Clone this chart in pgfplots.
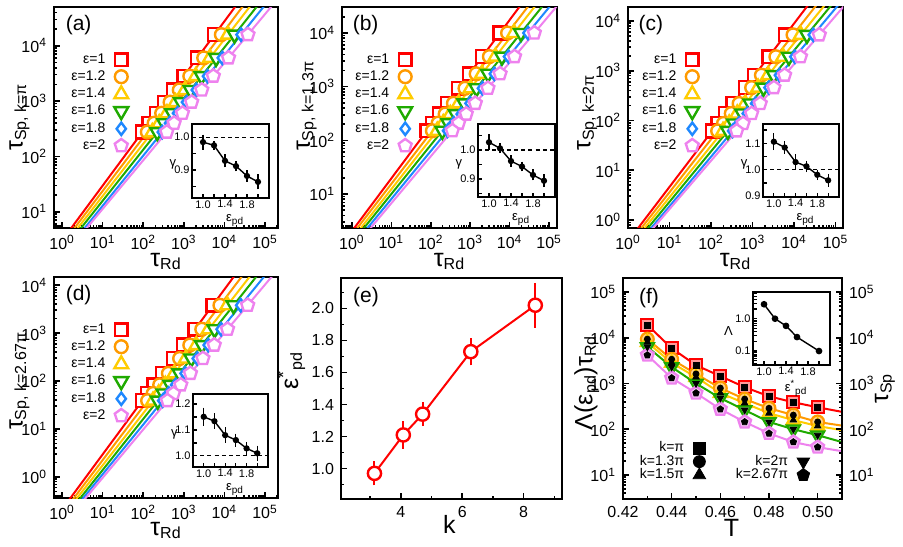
\documentclass[border=0pt]{standalone}
\usepackage{fontspec}
\setmainfont{Liberation Sans}
\usepackage{pgfplots}
\usepackage{pgfplotstable}
\pgfplotsset{compat=1.18}
\usetikzlibrary{plotmarks}

\definecolor{cR}{HTML}{FF0000}
\definecolor{cO}{HTML}{FF9A00}
\definecolor{cY}{HTML}{FFCC00}
\definecolor{cG}{HTML}{1FAA00}
\definecolor{cB}{HTML}{1E88FF}
\definecolor{cV}{HTML}{EE82EE}

\newcommand\tsz{\fontsize{8}{9}\selectfont}
\newcommand\lsz{\fontsize{12.5}{14}\selectfont}
\newcommand\gsz{\fontsize{7}{8}\selectfont}
\newcommand\psz{\fontsize{10.5}{12}\selectfont}
\newcommand\isz{\fontsize{5.5}{6}\selectfont}
\newcommand\ilsz{\fontsize{6.5}{7}\selectfont}
\newcommand\sub[1]{\textsubscript{\fontsize{8}{9}\selectfont #1}}
\newcommand\isub[1]{\textsubscript{\fontsize{5}{5}\selectfont #1}}
\newcommand\dec[1]{10\textsuperscript{#1}}

\pgfplotsset{
  panel/.style={
    /pgfplots/scale only axis, /pgfplots/anchor=south west,
    /pgfplots/axis line style={line width=1pt},
    /pgfplots/tick align=inside, /pgfplots/tick pos=left,
    /pgfplots/major tick length=3pt, /pgfplots/minor tick length=1.6pt,
    /pgfplots/every tick/.style={black, line width=0.8pt},
    /pgfplots/tick label style={font=\tsz},
    /pgfplots/label style={font=\lsz},
    /pgf/number format/assume math mode=true,
    /pgfplots/legend plot pos=right, /pgfplots/legend cell align=right,
    /pgfplots/legend style={draw=none, fill=none, inner sep=0pt, font=\gsz,
      anchor=north east, row sep=1.1pt, column sep=4pt,
      nodes={inner sep=0.5pt}},
  },
  xdecades/.style={
    /pgfplots/xtick={1,10,100,1000,10000,100000},
    /pgfplots/xticklabels={\dec0,\dec1,\dec2,\dec3,\dec4,\dec5},
    /pgfplots/minor xtick={0.6,0.7,0.8,0.9,2,3,4,5,6,7,8,9,20,30,40,50,60,70,80,90,
      200,300,400,500,600,700,800,900,2000,3000,4000,5000,6000,7000,8000,9000,
      20000,30000,40000,50000,60000,70000,80000,90000,200000}},
  ydecminor/.style={/pgfplots/minor ytick={0.2,0.3,0.4,0.5,0.6,0.7,0.8,0.9,2,3,4,5,6,7,8,9,
      20,30,40,50,60,70,80,90,200,300,400,500,600,700,800,900,
      2000,3000,4000,5000,6000,7000,8000,9000,
      20000,30000,40000,50000,60000,70000,80000,90000,200000}},
  ln/.style={#1, line width=1pt, forget plot},
  inset/.style={
    /pgfplots/scale only axis, /pgfplots/anchor=south west,
    /pgfplots/axis background/.style={fill=white},
    /pgfplots/axis line style={line width=0.6pt},
    /pgfplots/tick align=inside, /pgfplots/tick pos=left,
    /pgfplots/major tick length=1.8pt, /pgfplots/minor tick length=1.8pt,
    /pgfplots/every tick/.style={black, line width=0.6pt},
    /pgfplots/tick label style={font=\isz, inner sep=1pt},
    /pgf/number format/assume math mode=true,
    /pgfplots/xmin=0.8, /pgfplots/xmax=2.2,
    /pgfplots/xtick={1.0,1.4,1.8}, /pgfplots/minor xtick={1.2,1.6,2.0},
    /pgfplots/xticklabel style={/pgf/number format/.cd, fixed, fixed zerofill, precision=1},
    /pgfplots/yticklabel style={/pgf/number format/.cd, fixed, fixed zerofill, precision=1},
    /pgfplots/xlabel style={font=\ilsz, at={(axis description cs:0.56,-0.32)}, anchor=base},
    /pgfplots/ylabel style={font=\ilsz, rotate=-90, at={(axis description cs:-0.25,0.45)}, anchor=center},
    /pgfplots/xlabel={ε\isub{pd}}, /pgfplots/ylabel={γ},
  },
}

% tau_Sp (first column) against tau_Rd for eps = 1, 1.2, 1.4, 1.6, 1.8, 2
\pgfplotstableread{
y      R     O     Y     G     B     V
15850  5690  8400  12250 17750 25700 37930
6026   2143  3084  4400  6225  8854  12620
2818   995   1403  1968  2735  3829  5322
1585   556   773   1069  1466  2028  2767
955    333   458   625   847   1161  1557
603    209   284   384   515   698   923
398    138   185   247   329   443   575
275    95.1  126   167   221   294   379
}\Amk
\pgfplotstableread{
y      R      O      Y      G       B       V
2.512  0.826  0.977  1.156  1.368   1.660   1.820
100000 36650  56490  86300  130300  195900  307600
}\Alin
\pgfplotstableread{
y      R     O      Y     G     B     V
10000  5663  8854   12860 19320 29040 42280
3631   2023  3063   4355  6369  9357  13270
1738   957   1416   1986  2839  4094  5715
933    508   738    1021  1439  2042  2813
490    264   375    513   710   991   1346
309    166   232    313   429   592   794
209    111   153.5  207   279   382   508
151    80.2  110    146   196   266   352
}\Bmk
\pgfplotstableread{
y      R       O      Y       G       B       V
1      0.4875  0.568  0.6855  0.8027  0.964   1.132
100000 58740   99080  150700  240400  382800  587500
}\Blin
\pgfplotstableread{
y      R     O      Y     G     B     V
5248   6196  9486   14520 20470 29040 40560
1905   2455  3657   5433  7535  10470 14290
813    1125  1637   2383  3244  4447  5931
457    665   953    1361  1841  2495  3274
219    339   476    667   890   1189  1532
138    223   308    428   564   748   953
87.1   146   200    274   358   470   593
61.7   107   144.5  195   255   332   415
}\Cmk
\pgfplotstableread{
y      R      O      Y      G       B       V
0.3162 0.859  1.007  1.180  1.396   1.652   1.811
31620  31990  51400  82600  120500  177000  258200
}\Clin
\pgfplotstableread{
y      R     O     Y     G     B     V
3802   5142  7762  11800 16800 25180 37340
1202   1884  2767  4094  5702  8281  11910
562    971   1403  2033  2793  3972  5599
295    553   787   1122  1525  2134  2951
144.5  297   416   582   780   1072  1452
83.2   184   254   350   465   628   840
55.0   128   175   239   315   422   556
38.9   94.6  128   174   228   302   394
}\Dmk
\pgfplotstableread{
y      R      O      Y      G       B       V
0.1585 0.78   0.931  1.094  1.297   1.489   1.671
31620  32590  51760  83180  122700  194500  306200
}\Dlin
% exponent gamma against eps_pd
\pgfplotstableread{
e    g      err
1.0  0.985  0.015
1.2  0.975  0.006
1.4  0.928  0.012
1.6  0.912  0.008
1.8  0.882  0.010
2.0  0.864  0.015
}\Agam
\pgfplotstableread{
e    g      err
1.0  1.027  0.018
1.2  1.006  0.008
1.4  0.962  0.012
1.6  0.943  0.008
1.8  0.914  0.010
2.0  0.894  0.013
}\Bgam
\pgfplotstableread{
e    g      err
1.0  1.106  0.022
1.2  1.084  0.015
1.4  1.029  0.020
1.6  1.013  0.012
1.8  0.981  0.010
2.0  0.960  0.015
}\Cgam
\pgfplotstableread{
e    g      err
1.0  1.151  0.025
1.2  1.134  0.020
1.4  1.080  0.020
1.6  1.061  0.015
1.8  1.029  0.015
2.0  1.010  0.020
}\Dgam
% eps*_pd against k
\pgfplotstableread{
k     e     err
3.14  0.97  0.05
4.08  1.21  0.06
4.71  1.34  0.05
6.28  1.73  0.06
8.38  2.02  0.115
}\Etab
% Lambda(eps_pd) tau_Rd against T, one column per k
\pgfplotstableread{
T      R      O      Y      G      V
0.43   19050  9333   7943   6310   4169
0.44   5888   3388   2818   2291   1318
0.45   2512   1622   1380   1000   617
0.46   1445   794    617    479    275
0.47   832    457    372    263    144.5
0.48   525    288    224    144.5  81.3
0.49   389    204    158.5  100    52.5
0.50   302    144.5  117.5  74.1   40.7
0.51   240    120    95.5   52.5   33.1
}\Ftab
\pgfplotstableread{
e    L
1.0  2.8
1.2  1.0
1.4  0.6
1.6  0.27
2.0  0.1
}\Flam

% six fitted lines, then the six marker series with their legend
\newcommand\epsplots[2]{%
  \addplot[ln=cR] table[x=R,y=y]{#2};
  \addplot[ln=cO] table[x=O,y=y]{#2};
  \addplot[ln=cY] table[x=Y,y=y]{#2};
  \addplot[ln=cG] table[x=G,y=y]{#2};
  \addplot[ln=cB] table[x=B,y=y]{#2};
  \addplot[ln=cV] table[x=V,y=y]{#2};
  \addplot[only marks, line width=1.2pt, cR, mark=square*, mark size=3.2pt,
    mark options={solid, fill=white}] table[x=R,y=y]{#1}; \addlegendentry{ε=1}
  \addplot[only marks, line width=1.2pt, cO, mark=*, mark size=3.2pt,
    mark options={solid, fill=white}] table[x=O,y=y]{#1}; \addlegendentry{ε=1.2}
  \addplot[only marks, line width=1.2pt, cY, mark=triangle*, mark size=4pt,
    mark options={solid, fill=white}] table[x=Y,y=y]{#1}; \addlegendentry{ε=1.4}
  \addplot[only marks, line width=1.2pt, cG, mark=triangle*, mark size=4pt,
    mark options={solid, fill=white, rotate=180}] table[x=G,y=y]{#1}; \addlegendentry{ε=1.6}
  \addplot[only marks, line width=1.2pt, cB, mark=diamond*, mark size=3.1pt,
    mark options={solid, fill=white}] table[x=B,y=y]{#1}; \addlegendentry{ε=1.8}
  \addplot[only marks, line width=1.2pt, cV, mark=pentagon*, mark size=3.4pt,
    mark options={solid, fill=white}] table[x=V,y=y]{#1}; \addlegendentry{ε=2}
}

\begin{document}
\begin{tikzpicture}
\useasboundingbox (0,0) rectangle (451.5pt,273pt);

% ---------------- (a)
\begin{axis}[panel, xmode=log, xdecades, ydecminor, at={(27pt,159pt)}, width=112pt, height=110.5pt,
  xmin=0.631, xmax=208900, ymode=log, ymin=5.08, ymax=50100,
  ytick={10,100,1000,10000}, yticklabels={\dec1,\dec2,\dec3,\dec4},
  xlabel={τ\sub{Rd}}, ylabel={τ\sub{Sp, k=π}},
  xlabel style={at={(axis description cs:0.5,-0.172)}, anchor=base},
  ylabel style={at={(axis description cs:-0.14,0.317)}, anchor=base west},
  legend style={at={(axis description cs:0.333,0.796)}}]
\epsplots{\Amk}{\Alin}
\node[font=\psz] at (rel axis cs:0.11,0.92) {(a)};
\end{axis}

% ---------------- (b)
\begin{axis}[panel, xmode=log, xdecades, ydecminor, at={(171pt,159pt)}, width=107.5pt, height=110.5pt,
  xmin=0.562, xmax=158500, ymode=log, ymin=2.33, ymax=30500,
  ytick={10,100,1000,10000}, yticklabels={\dec1,\dec2,\dec3,\dec4},
  xlabel={τ\sub{Rd}}, ylabel={τ\sub{Sp, k=1.3π}},
  xlabel style={at={(axis description cs:0.5,-0.172)}, anchor=base},
  ylabel style={at={(axis description cs:-0.15,0.317)}, anchor=base west},
  legend style={at={(axis description cs:0.328,0.796)}}]
\epsplots{\Bmk}{\Blin}
\node[font=\psz] at (rel axis cs:0.11,0.92) {(b)};
\end{axis}

% ---------------- (c)
\begin{axis}[panel, xmode=log, xdecades, ydecminor, at={(314pt,159pt)}, width=107.5pt, height=110.5pt,
  xmin=1, xmax=151400, ymode=log, ymin=0.692, ymax=19050,
  ytick={1,10,100,1000,10000}, yticklabels={\dec0,\dec1,\dec2,\dec3,\dec4},
  xlabel={τ\sub{Rd}}, ylabel={τ\sub{Sp, k=2π}},
  xlabel style={at={(axis description cs:0.5,-0.172)}, anchor=base},
  ylabel style={at={(axis description cs:-0.175,0.317)}, anchor=base west},
  legend style={at={(axis description cs:0.333,0.796)}}]
\epsplots{\Cmk}{\Clin}
\node[font=\psz] at (rel axis cs:0.106,0.92) {(c)};
\end{axis}

% ---------------- (d)
\begin{axis}[panel, xmode=log, xdecades, ydecminor, at={(27pt,24pt)}, width=112pt, height=110.5pt,
  xmin=0.631, xmax=208900, ymode=log, ymin=0.363, ymax=14790,
  ytick={1,10,100,1000,10000}, yticklabels={\dec0,\dec1,\dec2,\dec3,\dec4},
  xlabel={τ\sub{Rd}}, ylabel={τ\sub{Sp, k=2.67π}},
  xlabel style={at={(axis description cs:0.5,-0.168)}, anchor=base},
  ylabel style={at={(axis description cs:-0.14,0.276)}, anchor=base west},
  legend style={at={(axis description cs:0.333,0.796)}}]
\epsplots{\Dmk}{\Dlin}
\node[font=\psz] at (rel axis cs:0.11,0.92) {(d)};
\end{axis}

% ---------------- (e)
\begin{axis}[panel, at={(170.5pt,23.5pt)}, width=110.5pt, height=110.5pt,
  xmin=2.05, xmax=9.25, ymin=0.81, ymax=2.19,
  xtick={4,6,8}, minor xtick={3,5,7,9},
  ytick={1.0,1.2,1.4,1.6,1.8,2.0}, minor ytick={0.9,1.1,1.3,1.5,1.7,1.9,2.1},
  yticklabel style={/pgf/number format/.cd, fixed, fixed zerofill, precision=1},
  xlabel={k}, ylabel={ε\textsuperscript{*}\sub{pd}},
  xlabel style={at={(axis description cs:0.49,-0.154)}, anchor=base},
  ylabel style={at={(axis description cs:-0.225,0.58)}, anchor=center}]
\addplot[cR, line width=1pt, mark=*, mark size=3.3pt,
  mark options={solid, fill=white, line width=1.2pt},
  error bars/.cd, y dir=both, y explicit,
  error bar style={line width=1pt, cR},
  error mark options={line width=1pt, mark size=2pt, cR}]
  table[x=k, y=e, y error=err]{\Etab};
\node[font=\psz] at (rel axis cs:0.113,0.912) {(e)};
\end{axis}

% ---------------- (f), left scale
\begin{axis}[panel, ydecminor, at={(311.5pt,23.5pt)}, width=109.5pt, height=110.5pt,
  xmin=0.42, xmax=0.51, ymode=log, ymin=2.99, ymax=202300,
  ytick={10,100,1000,10000,100000}, yticklabels={\dec1,\dec2,\dec3,\dec4,\dec5},
  xtick={0.42,0.44,0.46,0.48,0.50}, minor xtick={0.43,0.45,0.47,0.49},
  xticklabel style={/pgf/number format/.cd, fixed, fixed zerofill, precision=2},
  xlabel={T}, ylabel={Λ(ε\sub{pd})τ\sub{Rd}},
  xlabel style={at={(axis description cs:0.495,-0.17)}, anchor=base},
  ylabel style={at={(axis description cs:-0.14,0.28)}, anchor=base west},
  legend style={at={(axis description cs:0.379,0.266)}, row sep=-0.85pt}]
\addplot[ln=cR] table[x=T,y=R]{\Ftab};
\addplot[ln=cO] table[x=T,y=O]{\Ftab};
\addplot[ln=cY] table[x=T,y=Y]{\Ftab};
\addplot[ln=cG] table[x=T,y=G]{\Ftab};
\addplot[ln=cV] table[x=T,y=V]{\Ftab};
\addplot[only marks, forget plot, cR, line width=1.1pt, mark=square*, mark size=3pt,
  mark options={solid, fill=cR!40!white}, skip coords between index={8}{9}] table[x=T,y=R]{\Ftab};
\addplot[only marks, forget plot, cO, line width=1.1pt, mark=*, mark size=3.2pt,
  mark options={solid, fill=cO!45!white}, skip coords between index={8}{9}] table[x=T,y=O]{\Ftab};
\addplot[only marks, forget plot, cY, line width=1.1pt, mark=triangle*, mark size=3.8pt,
  mark options={solid, fill=cY!45!white}, skip coords between index={8}{9}] table[x=T,y=Y]{\Ftab};
\addplot[only marks, forget plot, cG, line width=1.1pt, mark=triangle*, mark size=3.8pt,
  mark options={solid, fill=cG!45!white, rotate=180}, skip coords between index={8}{9}] table[x=T,y=G]{\Ftab};
\addplot[only marks, forget plot, cV, line width=1.1pt, mark=pentagon*, mark size=3.4pt,
  mark options={solid, fill=cV!45!white}, skip coords between index={8}{9}] table[x=T,y=V]{\Ftab};
\addplot[only marks, forget plot, black, mark=square*, mark size=1.5pt, skip coords between index={8}{9}] table[x=T,y=R]{\Ftab};
\addplot[only marks, forget plot, black, mark=*, mark size=1.5pt, skip coords between index={8}{9}] table[x=T,y=O]{\Ftab};
\addplot[only marks, forget plot, black, mark=triangle*, mark size=1.9pt, skip coords between index={8}{9}] table[x=T,y=Y]{\Ftab};
\addplot[only marks, forget plot, black, mark=triangle*, mark size=1.9pt, mark options={rotate=180}, skip coords between index={8}{9}] table[x=T,y=G]{\Ftab};
\addplot[only marks, forget plot, black, mark=pentagon*, mark size=1.7pt, skip coords between index={8}{9}] table[x=T,y=V]{\Ftab};
\addlegendimage{only marks, black, mark=square*, mark size=3pt}
\addlegendentry{k=π}
\addlegendimage{only marks, black, mark=*, mark size=3pt}
\addlegendentry{k=1.3π}
\addlegendimage{only marks, black, mark=triangle*, mark size=3.6pt}
\addlegendentry{k=1.5π}
\node[font=\psz] at (rel axis cs:0.119,0.91) {(f)};
\end{axis}

% ---------------- (f), right scale (tau_Sp)
\begin{axis}[panel, ydecminor, at={(311.5pt,23.5pt)}, width=109.5pt, height=110.5pt,
  xmin=0.42, xmax=0.51, ymode=log, ymin=2.99, ymax=202300,
  axis y line*=right, hide x axis, ytick pos=right, yticklabel pos=right,
  ytick={10,100,1000,10000,100000}, yticklabels={\dec1,\dec2,\dec3,\dec4,\dec5},
  ylabel={τ\sub{Sp}},
  ylabel style={at={(axis description cs:1.196,0.5)}, anchor=center},
  legend style={at={(axis description cs:0.854,0.205)}, row sep=-0.85pt}]
\addplot[draw=none, forget plot] table[x=T,y=R]{\Ftab};
\addlegendimage{only marks, black, mark=triangle*, mark size=3.6pt, mark options={rotate=180}}
\addlegendentry{k=2π}
\addlegendimage{only marks, black, mark=pentagon*, mark size=3.3pt}
\addlegendentry{k=2.67π}
\end{axis}

% ---------------- insets
\begin{axis}[inset, at={(96pt,174pt)}, width=38.5pt, height=37pt,
  ymin=0.815, ymax=1.04, ytick={0.9,1.0}, minor ytick={0.85,0.95}]
\addplot[black, line width=0.6pt, dash pattern=on 2pt off 1.6pt] coordinates {(0.8,1) (2.2,1)};
\addplot[black, line width=0.7pt, mark=*, mark size=1.2pt,
  error bars/.cd, y dir=both, y explicit, error bar style={line width=0.6pt},
  error mark options={line width=0.6pt, mark size=1.3pt}]
  table[x=e, y=g, y error=err]{\Agam};
\end{axis}

\begin{axis}[inset, at={(239pt,174.5pt)}, width=38.5pt, height=36.5pt,
  ymin=0.838, ymax=1.09, ytick={0.9,1.0}, minor ytick={0.85,0.95,1.05}]
\addplot[black, line width=0.6pt, dash pattern=on 2pt off 1.6pt] coordinates {(0.8,1) (2.2,1)};
\addplot[black, line width=0.7pt, mark=*, mark size=1.2pt,
  error bars/.cd, y dir=both, y explicit, error bar style={line width=0.6pt},
  error mark options={line width=0.6pt, mark size=1.3pt}]
  table[x=e, y=g, y error=err]{\Bgam};
\end{axis}

\begin{axis}[inset, at={(381.5pt,174.5pt)}, width=38pt, height=36.5pt,
  ymin=0.897, ymax=1.173, ytick={0.9,1.0,1.1}, minor ytick={0.95,1.05,1.15}]
\addplot[black, line width=0.6pt, dash pattern=on 2pt off 1.6pt] coordinates {(0.8,1) (2.2,1)};
\addplot[black, line width=0.7pt, mark=*, mark size=1.2pt,
  error bars/.cd, y dir=both, y explicit, error bar style={line width=0.6pt},
  error mark options={line width=0.6pt, mark size=1.3pt}]
  table[x=e, y=g, y error=err]{\Cgam};
\end{axis}

\begin{axis}[inset, at={(96.5pt,39.5pt)}, width=37.5pt, height=36.5pt,
  ymin=0.957, ymax=1.239, ytick={1.0,1.1,1.2}, minor ytick={1.05,1.15}]
\addplot[black, line width=0.6pt, dash pattern=on 2pt off 1.6pt] coordinates {(0.8,1) (2.2,1)};
\addplot[black, line width=0.7pt, mark=*, mark size=1.2pt,
  error bars/.cd, y dir=both, y explicit, error bar style={line width=0.6pt},
  error mark options={line width=0.6pt, mark size=1.3pt}]
  table[x=e, y=g, y error=err]{\Dgam};
\end{axis}

\begin{axis}[inset, at={(376.5pt,90.5pt)}, width=38.5pt, height=36.5pt,
  ymode=log, ymin=0.037, ymax=6.7, ytick={0.1,1}, yticklabels={0.1,1.0},
  minor ytick={0.04,0.05,0.06,0.07,0.08,0.09,0.2,0.3,0.4,0.5,0.6,0.7,0.8,0.9,2,3,4,5,6},
  xlabel={ε\textsuperscript{*}\isub{pd}}, ylabel={Λ},
  xlabel style={at={(axis description cs:0.56,-0.36)}},
  ylabel style={at={(axis description cs:-0.32,0.47)}}]
\addplot[black, line width=0.7pt, mark=*, mark size=1.3pt] table[x=e, y=L]{\Flam};
\end{axis}

\end{tikzpicture}
\end{document}
